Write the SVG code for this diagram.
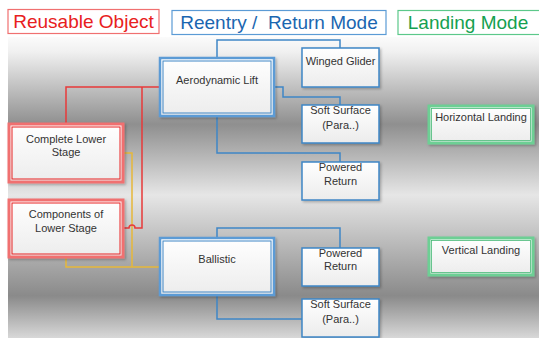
<svg xmlns="http://www.w3.org/2000/svg" width="539" height="338" viewBox="0 0 539 338">
<defs>
<linearGradient id="bg" x1="0" y1="0" x2="0" y2="1">
<stop offset="0" stop-color="#fbfbfb"/>
<stop offset="0.05" stop-color="#f0f0f0"/>
<stop offset="0.29" stop-color="#8f8f8f"/>
<stop offset="0.525" stop-color="#e6e6e6"/>
<stop offset="0.86" stop-color="#8a8a8a"/>
<stop offset="1" stop-color="#d8d8d8"/>
</linearGradient>
<linearGradient id="box" x1="0" y1="0" x2="0" y2="1">
<stop offset="0" stop-color="#ffffff"/>
<stop offset="1" stop-color="#ececec"/>
</linearGradient>
<filter id="sh" x="-10%" y="-10%" width="130%" height="130%">
<feDropShadow dx="1.5" dy="1.5" stdDeviation="1" flood-color="#000" flood-opacity="0.25"/>
</filter>
</defs>
<style>
.hdr{font-family:"Liberation Sans",Arial,sans-serif;font-size:19px;text-anchor:middle}
.t{font-family:"Liberation Sans",Arial,sans-serif;font-size:11px;fill:#333;text-anchor:middle}
.b1{fill:url(#box);stroke:#3f86c6;stroke-width:1.5;filter:url(#sh)}
.bo{fill:url(#box);stroke:#5b9bd5;stroke-width:2.5;filter:url(#sh)}
.bi{fill:none;stroke:#3f86c6;stroke-width:1}
.ro{fill:url(#box);stroke:#f07070;stroke-width:3;filter:url(#sh)}
.ri{fill:none;stroke:#e82020;stroke-width:1}
.go{fill:url(#box);stroke:#6dcf94;stroke-width:3;filter:url(#sh)}
.gi{fill:none;stroke:#48b877;stroke-width:0.8}
.cb{fill:none;stroke:#3f86c6;stroke-width:1.5}
.cr{fill:none;stroke:#e83a3a;stroke-width:1.5}
.cy{fill:none;stroke:#e6b83a;stroke-width:1.5}
</style>
<rect x="0" y="0" width="539" height="338" fill="#ffffff"/>
<rect x="8" y="37" width="531" height="301" fill="url(#bg)"/>

<g id="hdr-reusable">
<rect x="8" y="9.5" width="151" height="24" fill="#fff" stroke="#f07070" stroke-width="1.2"/>
<text class="hdr" x="83.5" y="28" fill="#e82020">Reusable Object</text>
</g>
<g id="hdr-reentry">
<rect x="172" y="10.5" width="214" height="24" fill="#fff" stroke="#5b9bd5" stroke-width="1.2"/>
<text class="hdr" x="279" y="29" fill="#1a66b0" xml:space="preserve">Reentry /  Return Mode</text>
</g>
<g id="hdr-landing">
<rect x="398" y="10.5" width="145" height="24" fill="#fff" stroke="#5cc88a" stroke-width="1.2"/>
<text class="hdr" x="468" y="29" fill="#15a050">Landing Mode</text>
</g>

<g id="connectors">
<path class="cb" d="M217,58 V40 H340 V48"/>
<path class="cb" d="M274,87 H283 V97 H340 V105"/>
<path class="cb" d="M217,116 V153 H340 V162"/>
<path class="cb" d="M217,238 V228 H340 V248"/>
<path class="cb" d="M217,295 V319 H302"/>
<path class="cy" d="M123,153 H132 V267"/>
<path class="cy" d="M66,257 V267 H160"/>
<path class="cr" d="M66,124 V87 H160"/>
<path class="cr" d="M123,228 H129 A3,3 0 0 1 135,228 H142 V87"/>
</g>

<g id="aero">
<rect class="bo" x="160" y="58" width="114" height="58"/>
<rect class="bi" x="163" y="61" width="108" height="52"/>
<text class="t" x="217" y="84">Aerodynamic Lift</text>
</g>
<g id="winged">
<rect class="b1" x="302" y="48" width="77" height="39"/>
<text class="t" x="340.5" y="65">Winged Glider</text>
</g>
<g id="soft1">
<rect class="b1" x="302" y="105" width="77" height="38"/>
<text class="t" x="340.5" y="114">Soft Surface</text>
<text class="t" x="340.5" y="129">(Para..)</text>
</g>
<g id="powered1">
<rect class="b1" x="302" y="162" width="77" height="38"/>
<text class="t" x="340.5" y="171">Powered</text>
<text class="t" x="340.5" y="185">Return</text>
</g>
<g id="ballistic">
<rect class="bo" x="160" y="238" width="114" height="57"/>
<rect class="bi" x="163" y="241" width="108" height="51"/>
<text class="t" x="217" y="263">Ballistic</text>
</g>
<g id="powered2">
<rect class="b1" x="302" y="248" width="77" height="38"/>
<text class="t" x="340.5" y="257">Powered</text>
<text class="t" x="340.5" y="270">Return</text>
</g>
<g id="soft2">
<rect class="b1" x="302" y="299" width="77" height="38"/>
<text class="t" x="340.5" y="308">Soft Surface</text>
<text class="t" x="340.5" y="323">(Para..)</text>
</g>
<g id="horizontal">
<rect class="go" x="429" y="106" width="104" height="37"/>
<rect class="gi" x="431.5" y="108.5" width="99" height="32"/>
<text class="t" x="481" y="121">Horizontal Landing</text>
</g>
<g id="vertical">
<rect class="go" x="429" y="238" width="104" height="37"/>
<rect class="gi" x="431.5" y="240.5" width="99" height="32"/>
<text class="t" x="481" y="254">Vertical Landing</text>
</g>
<g id="complete">
<rect class="ro" x="9" y="124" width="114" height="58"/>
<rect class="ri" x="12" y="127" width="108" height="52"/>
<text class="t" x="66" y="143">Complete Lower</text>
<text class="t" x="66" y="156">Stage</text>
</g>
<g id="components">
<rect class="ro" x="9" y="200" width="114" height="57"/>
<rect class="ri" x="12" y="203" width="108" height="51"/>
<text class="t" x="66" y="218">Components of</text>
<text class="t" x="66" y="232">Lower Stage</text>
</g>
</svg>
